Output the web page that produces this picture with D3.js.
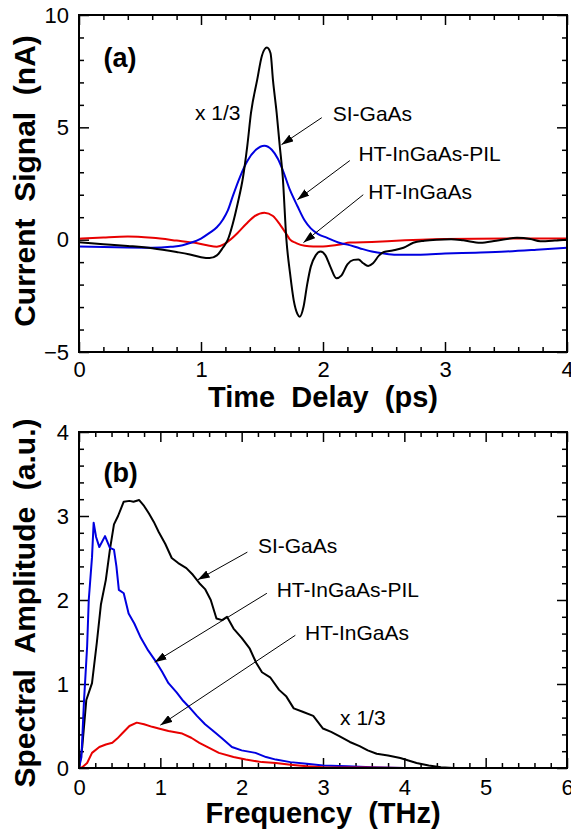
<!DOCTYPE html>
<html>
<head>
<meta charset="utf-8">
<script src="https://cdn.jsdelivr.net/npm/d3@7"></script>
<style>
body { margin: 0; background: #fff; }
text { font-family: Arial, "Liberation Sans", sans-serif; fill: #000; }
</style>
</head>
<body>
<svg width="571" height="832"></svg>
<script>
// ---- panel (a): current signal vs time delay ----
var delayTicks = [0, 1, 2, 3, 4];
var signalTicks = [-5, 0, 5, 10];

// SI-GaAs (shown x 1/3)
var tSI = [0, 0.2, 0.4, 0.6, 0.8, 0.9, 1.0, 1.07, 1.13, 1.18, 1.22, 1.26, 1.3, 1.345, 1.38, 1.41, 1.46, 1.5, 1.54, 1.57, 1.59, 1.62, 1.645, 1.67, 1.7, 1.73, 1.76, 1.79, 1.81, 1.84, 1.87, 1.9, 1.94, 1.98, 2.02, 2.06, 2.11, 2.15, 2.2, 2.25, 2.29, 2.33, 2.37, 2.41, 2.46, 2.5, 2.57, 2.66, 2.74, 2.83, 2.93, 3.05, 3.15, 3.29, 3.42, 3.59, 3.7, 3.78, 3.9, 4.0];
var vSI = [-0.12, -0.2, -0.28, -0.38, -0.55, -0.65, -0.78, -0.82, -0.7, -0.35, 0, 0.7, 1.6, 2.8, 4.2, 5.65, 7.1, 8.2, 8.55, 8.3, 7.1, 5.65, 4.2, 2.8, 0, -1.5, -2.7, -3.3, -3.43, -3.0, -2.0, -1.2, -0.7, -0.53, -0.7, -1.2, -1.72, -1.6, -1.1, -0.9, -0.88, -1.05, -1.17, -1.05, -0.7, -0.55, -0.48, -0.36, -0.14, -0.05, 0, 0.02, -0.03, -0.14, -0.05, 0.08, 0.03, -0.07, -0.04, 0];

// HT-InGaAs-PIL
var tPIL = [0, 0.3, 0.6, 0.75, 0.85, 0.91, 1.0, 1.07, 1.13, 1.18, 1.22, 1.26, 1.32, 1.38, 1.45, 1.52, 1.58, 1.63, 1.67, 1.73, 1.79, 1.85, 1.9, 1.96, 2.03, 2.14, 2.2, 2.3, 2.4, 2.5, 2.6, 2.8, 3.0, 3.25, 3.5, 3.75, 4.0];
var vPIL = [-0.3, -0.34, -0.36, -0.32, -0.25, -0.15, 0.05, 0.3, 0.55, 0.9, 1.3, 1.93, 2.8, 3.5, 4.0, 4.18, 4.0, 3.6, 3.1, 2.2, 1.5, 0.85, 0.5, 0.25, 0.09, -0.15, -0.22, -0.38, -0.53, -0.62, -0.67, -0.67, -0.62, -0.58, -0.53, -0.45, -0.36];

// HT-InGaAs
var tHT = [0, 0.2, 0.4, 0.6, 0.8, 0.95, 1.05, 1.13, 1.19, 1.24, 1.3, 1.37, 1.44, 1.52, 1.59, 1.65, 1.7, 1.73, 1.78, 1.85, 1.92, 2.0, 2.14, 2.22, 2.4, 2.6, 2.8, 3.0, 3.5, 4.0];
var vHT = [0.04, 0.1, 0.14, 0.08, -0.04, -0.14, -0.25, -0.31, -0.2, 0, 0.3, 0.7, 1.05, 1.2, 1.05, 0.65, 0.25, 0, -0.15, -0.27, -0.3, -0.3, -0.22, -0.13, -0.1, -0.05, 0, 0.03, 0.05, 0.05];

// ---- panel (b): spectral amplitude vs frequency ----
var freqTicks = [0, 1, 2, 3, 4, 5, 6];
var ampTicks = [0, 1, 2, 3, 4];

var fSI = [0, 0.04, 0.09, 0.16, 0.22, 0.27, 0.33, 0.38, 0.43, 0.48, 0.55, 0.62, 0.67, 0.74, 0.8, 0.86, 0.92, 0.98, 1.06, 1.14, 1.22, 1.32, 1.4, 1.48, 1.55, 1.62, 1.69, 1.76, 1.82, 1.9, 2.0, 2.1, 2.18, 2.25, 2.35, 2.46, 2.55, 2.64, 2.75, 2.88, 3.0, 3.1, 3.2, 3.33, 3.45, 3.55, 3.66, 3.8, 3.95, 4.05, 4.15, 4.3, 4.45, 4.6, 5.0, 5.5, 6.0];
var aSI = [0, 0.25, 0.81, 1.01, 1.5, 1.95, 2.24, 2.6, 2.9, 3.0, 3.17, 3.18, 3.17, 3.19, 3.12, 3.03, 2.93, 2.81, 2.67, 2.5, 2.44, 2.38, 2.3, 2.2, 2.13, 2.0, 1.78, 1.76, 1.8, 1.66, 1.55, 1.42, 1.25, 1.14, 1.08, 0.93, 0.85, 0.71, 0.67, 0.62, 0.47, 0.43, 0.38, 0.31, 0.26, 0.21, 0.17, 0.15, 0.12, 0.09, 0.06, 0.03, 0.01, 0, 0, 0, 0];

var fPIL = [0, 0.03, 0.06, 0.1, 0.12, 0.16, 0.18, 0.21, 0.25, 0.32, 0.38, 0.43, 0.46, 0.49, 0.55, 0.61, 0.68, 0.76, 0.85, 0.95, 1.02, 1.1, 1.2, 1.28, 1.35, 1.45, 1.55, 1.64, 1.75, 1.88, 2.0, 2.17, 2.3, 2.42, 2.6, 2.8, 3.0, 3.3, 3.6, 4.0, 5.0, 6.0];
var aPIL = [0, 0.13, 0.77, 1.45, 2.0, 2.51, 2.92, 2.75, 2.63, 2.76, 2.62, 2.6, 2.4, 2.12, 2.08, 1.84, 1.72, 1.55, 1.4, 1.26, 1.15, 1.01, 0.9, 0.8, 0.73, 0.62, 0.52, 0.45, 0.36, 0.25, 0.21, 0.18, 0.13, 0.1, 0.07, 0.05, 0.03, 0.02, 0.01, 0, 0, 0];

var fHT = [0, 0.04, 0.1, 0.16, 0.25, 0.33, 0.41, 0.47, 0.53, 0.62, 0.71, 0.8, 0.9, 0.98, 1.1, 1.27, 1.38, 1.48, 1.6, 1.72, 1.9, 2.05, 2.25, 2.42, 2.6, 2.8, 3.0, 3.5, 4.0, 5.0, 6.0];
var aHT = [0, 0.01, 0.06, 0.18, 0.25, 0.28, 0.3, 0.35, 0.41, 0.5, 0.54, 0.52, 0.49, 0.47, 0.44, 0.41, 0.36, 0.3, 0.24, 0.18, 0.13, 0.1, 0.07, 0.06, 0.04, 0.02, 0.01, 0.005, 0, 0, 0];

// annotations, in data units of each panel
var notesA = [
  {text: 'SI-GaAs', x: 2.08, y: 5.3, x1: 1.99, y1: 5.43, x2: 1.66, y2: 4.23},
  {text: 'HT-InGaAs-PIL', x: 2.29, y: 3.52, x1: 2.22, y1: 3.52, x2: 1.79, y2: 1.78},
  {text: 'HT-InGaAs', x: 2.37, y: 1.82, x1: 2.33, y1: 2.0, x2: 1.84, y2: -0.13},
  {text: 'x 1/3', x: 0.95, y: 5.34}
];
var notesB = [
  {text: 'SI-GaAs', x: 2.2, y: 2.56, x1: 2.07, y1: 2.57, x2: 1.46, y2: 2.24},
  {text: 'HT-InGaAs-PIL', x: 2.43, y: 2.04, x1: 2.31, y1: 2.08, x2: 0.93, y2: 1.26},
  {text: 'HT-InGaAs', x: 2.78, y: 1.52, x1: 2.66, y1: 1.58, x2: 1.0, y2: 0.51},
  {text: 'x 1/3', x: 3.21, y: 0.51}
];

var svg = d3.select('svg');

svg.append('rect').attr('width', 571).attr('height', 832).attr('fill', '#fff');

svg.append('defs').append('marker')
    .attr('id', 'head')
    .attr('viewBox', '0 0 12 8')
    .attr('refX', 12)
    .attr('refY', 4)
    .attr('markerWidth', 12)
    .attr('markerHeight', 8)
    .attr('markerUnits', 'userSpaceOnUse')
    .attr('orient', 'auto')
  .append('path')
    .attr('d', 'M0,0 L12,4 L0,8 z')
    .attr('fill', '#000');

function drawPanel(p) {
  var x = d3.scaleLinear().domain(p.xDomain).range([p.left, p.right]);
  var y = d3.scaleLinear().domain(p.yDomain).range([p.bottom, p.top]);

  var minorX = d3.range(p.xDomain[0], p.xDomain[1] + 1e-9, p.xMinor).filter(d => Math.abs(d - Math.round(d)) > 1e-6);
  var minorY = d3.range(p.yDomain[0], p.yDomain[1] + 1e-9, p.yMinor).filter(d => p.yTicks.every(t => Math.abs(t - d) > 1e-6));

  var g = svg.append('g');

  // major ticks with labels (bottom / left), mirrored on top / right
  g.append('g').attr('class', 'ax')
      .attr('transform', 'translate(0,' + p.bottom + ')')
      .call(d3.axisBottom(x).tickValues(p.xTicks).tickSize(-10).tickPadding(p.xPad).tickFormat(d3.format('d')));
  g.append('g').attr('class', 'ax')
      .attr('transform', 'translate(0,' + p.bottom + ')')
      .call(d3.axisBottom(x).tickValues(minorX).tickSize(-5).tickFormat(''));
  g.append('g').attr('class', 'ax')
      .attr('transform', 'translate(0,' + p.top + ')')
      .call(d3.axisTop(x).tickValues(p.xTicks).tickSize(-10).tickFormat(''));
  g.append('g').attr('class', 'ax')
      .attr('transform', 'translate(0,' + p.top + ')')
      .call(d3.axisTop(x).tickValues(minorX).tickSize(-5).tickFormat(''));
  g.append('g').attr('class', 'ax')
      .attr('transform', 'translate(' + p.left + ',0)')
      .call(d3.axisLeft(y).tickValues(p.yTicks).tickSize(-10).tickPadding(10).tickFormat(d3.format('d')));
  g.append('g').attr('class', 'ax')
      .attr('transform', 'translate(' + p.left + ',0)')
      .call(d3.axisLeft(y).tickValues(minorY).tickSize(-5).tickFormat(''));
  g.append('g').attr('class', 'ax')
      .attr('transform', 'translate(' + p.right + ',0)')
      .call(d3.axisRight(y).tickValues(p.yTicks).tickSize(-10).tickFormat(''));
  g.append('g').attr('class', 'ax')
      .attr('transform', 'translate(' + p.right + ',0)')
      .call(d3.axisRight(y).tickValues(minorY).tickSize(-5).tickFormat(''));

  g.selectAll('.ax .domain').remove();
  g.selectAll('.ax line').attr('stroke', '#000').attr('stroke-width', 1.5);
  g.selectAll('.ax text')
      .style('font-size', '22px')
      .style('font-family', 'Arial, "Liberation Sans", sans-serif')
      .attr('fill', '#000');

  // the curves
  p.series.forEach(function(s) {
    var pts = s.xs.map((d, i) => [d, s.ys[i]]);
    g.append('path')
        .datum(pts)
        .attr('fill', 'none')
        .attr('stroke', s.color)
        .attr('stroke-width', 2)
        .attr('stroke-linejoin', 'round')
        .attr('d', d3.line().x(d => x(d[0])).y(d => y(d[1])).curve(p.curve));
  });

  // frame
  g.append('rect')
      .attr('x', p.left)
      .attr('y', p.top)
      .attr('width', p.right - p.left)
      .attr('height', p.bottom - p.top)
      .attr('fill', 'none')
      .attr('stroke', '#000')
      .attr('stroke-width', 2);

  // panel tag
  g.append('text')
      .attr('x', x(p.tag.x))
      .attr('y', y(p.tag.y))
      .style('font-size', '27px')
      .style('font-weight', 'bold')
      .text(p.tag.text);

  // labels with arrows
  p.notes.forEach(function(n) {
    g.append('text')
        .attr('x', x(n.x))
        .attr('y', y(n.y))
        .style('font-size', '21px')
        .text(n.text);
    if (n.x1 !== undefined) {
      g.append('line')
          .attr('x1', x(n.x1)).attr('y1', y(n.y1))
          .attr('x2', x(n.x2)).attr('y2', y(n.y2))
          .attr('stroke', '#000')
          .attr('stroke-width', 1)
          .attr('marker-end', 'url(#head)');
    }
  });

  // axis titles
  svg.append('text')
      .attr('x', (p.left + p.right) / 2)
      .attr('y', p.xTitleY)
      .attr('text-anchor', 'middle')
      .style('font-size', '29px')
      .style('font-weight', 'bold')
      .style('white-space', 'pre')
      .text(p.xTitle);
  svg.append('text')
      .attr('transform', 'translate(35,' + p.yTitleY + ') rotate(-90)')
      .attr('text-anchor', 'middle')
      .style('font-size', '30px')
      .style('font-weight', 'bold')
      .style('white-space', 'pre')
      .text(p.yTitle);
}

drawPanel({
  left: 79, right: 567, top: 15, bottom: 352,
  xDomain: [0, 4], yDomain: [-5, 10],
  xTicks: delayTicks, yTicks: signalTicks,
  xMinor: 0.2, yMinor: 1, xPad: 9,
  curve: d3.curveMonotoneX,
  series: [
    {xs: tHT, ys: vHT, color: '#e80000'},
    {xs: tPIL, ys: vPIL, color: '#0000e0'},
    {xs: tSI, ys: vSI, color: '#000'}
  ],
  tag: {text: '(a)', x: 0.2, y: 7.7},
  notes: notesA,
  xTitle: 'Time  Delay  (ps)', xTitleY: 407,
  yTitle: 'Current  Signal  (nA)', yTitleY: 181
});

drawPanel({
  left: 79, right: 567, top: 432, bottom: 768,
  xDomain: [0, 6], yDomain: [0, 4],
  xTicks: freqTicks, yTicks: ampTicks,
  xMinor: 0.2, yMinor: 0.2, xPad: 11,
  curve: d3.curveLinear,
  series: [
    {xs: fSI, ys: aSI, color: '#000'},
    {xs: fPIL, ys: aPIL, color: '#0000e0'},
    {xs: fHT, ys: aHT, color: '#e80000'}
  ],
  tag: {text: '(b)', x: 0.3, y: 3.4},
  notes: notesB,
  xTitle: 'Frequency  (THz)', xTitleY: 823,
  yTitle: 'Spectral  Amplitude  (a.u.)', yTitleY: 603
});
</script>
</body>
</html>
